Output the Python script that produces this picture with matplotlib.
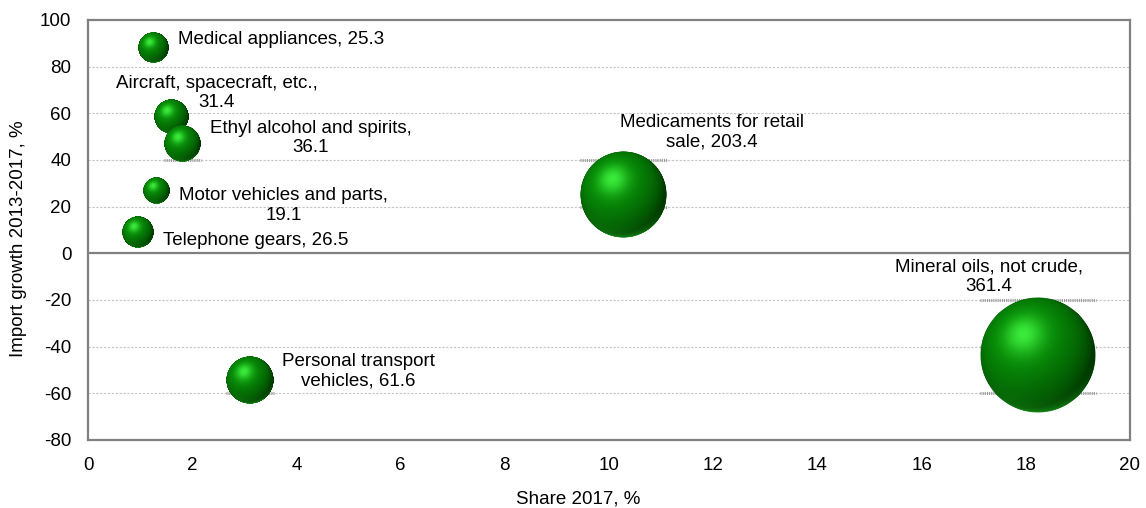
import numpy as np
import matplotlib
matplotlib.use('Agg')
import matplotlib.pyplot as plt
from matplotlib.offsetbox import OffsetImage, AnnotationBbox

plt.rcParams['font.family'] = ['Liberation Sans', 'DejaVu Sans']
plt.rcParams['axes.unicode_minus'] = False

# data
products = ['Medical appliances', 'Aircraft, spacecraft, etc.,\n', 'Ethyl alcohol and spirits,\n',
            'Motor vehicles and parts,\n', 'Telephone gears', 'Medicaments for retail\nsale',
            'Mineral oils, not crude,\n', 'Personal transport\nvehicles']
share_2017 = [1.25, 1.59, 1.82, 1.32, 0.96, 10.27, 18.23, 3.11]
growth = [88.0, 58.4, 46.8, 27.0, 9.0, 25.0, -43.6, -54.3]
import_value = [25.3, 31.4, 36.1, 19.1, 26.5, 203.4, 361.4, 61.6]

# label offsets from bubble centre (pixels)
label_dx = [128, 46, 128, 127, 118, 89, -49, 108]
label_dy = [8, 24, 6, -15, -8, 63, 78, 9]


def sphere_image(n=241):
    t = np.linspace(-1, 1, n)
    x, y = np.meshgrid(t, -t)
    r = np.sqrt(x**2 + y**2)
    z = np.sqrt(np.clip(1 - x**2 - y**2, 0, None))
    light = np.array([-0.32, 0.42, 0.85])
    light = light / np.linalg.norm(light)
    diff = np.clip(x*light[0] + y*light[1] + z*light[2], 0, 1)
    dark = np.array([0.0, 0.22, 0.0])
    mid = np.array([0.03, 0.58, 0.03])
    img = dark + (mid - dark) * diff[..., None]**0.9
    # soft highlight upper left
    h = np.array([-0.25, 0.36, 0.90])
    h = h / np.linalg.norm(h)
    spec = np.clip(x*h[0] + y*h[1] + z*h[2], 0, 1)**16
    img = img + np.array([0.20, 0.34, 0.20]) * spec[..., None]
    # light rim at the bottom
    rim = np.clip(-y, 0, 1)**2 * (1 - z)**1.3
    img = img + np.array([0.10, 0.38, 0.10]) * rim[..., None]
    img = np.clip(img, 0, 1)
    alpha = np.clip((1 - r) * n / 2.5, 0, 1)
    return np.dstack([img, alpha])


fig = plt.figure(figsize=(11.46, 5.08), dpi=100)
ax = fig.add_axes([88/1146, 1-440/508, (1130-88)/1146, 420/508])

ax.set_xlim(0, 20)
ax.set_ylim(-80, 100)
ax.set_xticks(np.arange(0, 21, 2))
ax.set_yticks(np.arange(-80, 101, 20))

grid_y = [yv for yv in range(-60, 100, 20) if yv != 0]
for yv in grid_y:
    ax.axhline(yv, color='#c4c4c4', lw=0.8, ls=(0, (2, 1.5)), zorder=0)
ax.axhline(0, color='#808080', lw=1.6, zorder=1)

for s in ax.spines.values():
    s.set_color('#808080')
    s.set_linewidth(1.6)

ax.tick_params(length=0, labelsize=13.5, colors='black')
ax.tick_params(axis='x', pad=12)
ax.tick_params(axis='y', pad=12)

# pixels per data unit
px_x = fig.get_figwidth() * fig.dpi * ax.get_position().width / 20
px_y = fig.get_figheight() * fig.dpi * ax.get_position().height / 180

sphere = sphere_image()
k = 3.05
for i in range(len(products)):
    r_px = k * np.sqrt(import_value[i])
    # hatched grid marks behind the bubble
    for yv in grid_y:
        if abs(yv - growth[i]) * px_y < r_px:
            ax.plot([share_2017[i] - r_px/px_x, share_2017[i] + r_px/px_x], [yv, yv],
                    color='#9a9a9a', lw=2.2, ls=(0, (0.35, 0.35)), zorder=2,
                    solid_capstyle='butt', dash_capstyle='butt')
    im = OffsetImage(sphere, zoom=2 * r_px / sphere.shape[0], dpi_cor=False)
    ab = AnnotationBbox(im, (share_2017[i], growth[i]), frameon=False, pad=0,
                        box_alignment=(0.5, 0.5), zorder=3)
    ab.set_clip_on(False)
    ax.add_artist(ab)
    name = products[i]
    sep = '' if name.endswith('\n') else ', '
    ax.annotate(name + sep + str(import_value[i]), (share_2017[i], growth[i]),
                xytext=(label_dx[i], label_dy[i]), textcoords='offset pixels',
                ha='center', va='center', multialignment='center',
                fontsize=13.5, zorder=4)

ax.set_xlabel('Share 2017, %', fontsize=13.5)
ax.xaxis.set_label_coords(0.47, -0.12)
ax.set_ylabel('Import growth 2013-2017, %', fontsize=13.5)
ax.yaxis.set_label_coords(-0.059, 0.48)

fig.savefig('out.png', dpi=100)
